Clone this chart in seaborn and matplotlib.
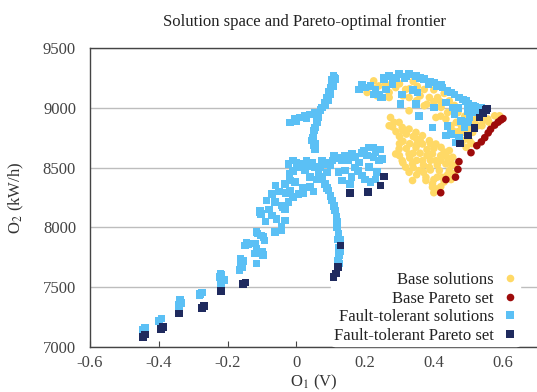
import pandas as pd
import matplotlib
matplotlib.use("Agg")
import matplotlib.pyplot as plt
import seaborn as sns

# --- datos ---
base_sol_o1 = [0.206, 0.225, 0.235, 0.24, 0.27, 0.27, 0.289, 0.30, 0.318, 0.328, 0.34, 0.352,
               0.372, 0.387, 0.372, 0.328, 0.35, 0.411, 0.421, 0.445, 0.40, 0.43, 0.406, 0.435,
               0.465, 0.455, 0.484, 0.504, 0.513, 0.528, 0.543, 0.557, 0.577, 0.591, 0.484, 0.494,
               0.504, 0.47, 0.49, 0.46, 0.52,
               0.23, 0.26, 0.28, 0.31, 0.33, 0.36, 0.38, 0.40, 0.42, 0.44, 0.48, 0.50, 0.52,
               0.54, 0.56, 0.51, 0.47, 0.45, 0.42,
               0.274, 0.284, 0.27, 0.299, 0.308, 0.328, 0.348, 0.367, 0.387, 0.406, 0.421, 0.445,
               0.455, 0.299, 0.289, 0.308, 0.328, 0.348, 0.338, 0.367, 0.357, 0.387, 0.406, 0.416,
               0.435, 0.377, 0.396, 0.406, 0.425, 0.445, 0.318, 0.328, 0.435, 0.396, 0.367, 0.338,
               0.377, 0.396, 0.416, 0.31, 0.33, 0.35, 0.38, 0.42, 0.45, 0.46, 0.36, 0.39, 0.32,
               0.29, 0.30,
               0.28, 0.31, 0.34, 0.36, 0.40, 0.43, 0.44, 0.46, 0.30, 0.32, 0.34, 0.30, 0.35,
               0.37, 0.39, 0.41, 0.43, 0.42, 0.40, 0.35, 0.34, 0.31, 0.33, 0.38, 0.41, 0.44,
               0.42, 0.39, 0.35, 0.37, 0.40, 0.45]
base_sol_o2 = [9128, 9225, 9100, 9183, 9128, 9086, 9169, 9200, 9153, 9086, 9220, 9180,
               9153, 9086, 9017, 8975, 9060, 9086, 9003, 9058, 9150, 9120, 8919, 8906,
               8878, 8808, 8794, 8836, 8794, 8850, 8892, 8906, 8933, 8933, 8725, 8669,
               8725, 8960, 8930, 9020, 8900,
               9160, 9200, 9240, 9100, 9160, 9100, 9030, 9050, 9050, 8960, 8850, 8780, 8860,
               8850, 8880, 8700, 8800, 8850, 8930,
               8919, 8878, 8850, 8878, 8836, 8822, 8794, 8767, 8725, 8697, 8669, 8642,
               8586, 8656, 8614, 8558, 8614, 8669, 8531, 8558, 8475, 8503, 8558, 8475,
               8531, 8419, 8364, 8322, 8419, 8475, 8503, 8461, 8600, 8614, 8697, 8392,
               8392, 8336, 8308, 8720, 8700, 8740, 8650, 8600, 8530, 8450, 8620, 8560, 8780,
               8800, 8760,
               8840, 8810, 8760, 8730, 8660, 8630, 8580, 8520, 8700, 8660, 8620, 8600, 8560,
               8520, 8480, 8420, 8380, 8340, 8290, 8440, 8500, 8540, 8580, 8600, 8520, 8440,
               8560, 8700, 8690, 8460, 8400, 8400]

base_par_o1 = [0.42, 0.435, 0.463, 0.47, 0.473, 0.508, 0.525, 0.538, 0.548, 0.558, 0.565,
               0.577, 0.587, 0.595, 0.601]
base_par_o2 = [8290, 8400, 8420, 8485, 8550, 8625, 8683, 8715, 8750, 8790, 8820,
               8855, 8880, 8898, 8910]

ft_sol_o1 = [-0.446, -0.44, -0.399, -0.392, -0.343, -0.338, -0.341, -0.282, -0.274, -0.223,
             -0.221, -0.219, -0.21, -0.165, -0.160, -0.162, -0.150, -0.145, -0.121, -0.116,
             -0.121, -0.116, -0.102, -0.106, -0.102, -0.092, -0.097, -0.116, -0.087, -0.062,
             -0.058, -0.043, -0.033, -0.043, -0.062, -0.023, -0.033, -0.043, -0.038,
             -0.336, -0.28, -0.218, -0.158, -0.155, -0.14, -0.11, -0.10, -0.113, -0.095, -0.105,
             -0.009, -0.018, -0.033, -0.018, -0.004, 0.006, 0.02, -0.023, -0.009, 0.020, 0.025,
             0.045, 0.055, 0.074, 0.064, 0.084, 0.094, 0.103, 0.113, 0.118, 0.123, 0.125, 0.126,
             0.128, 0.133, 0.123, 0.133, 0.142, 0.157, 0.162, 0.182, 0.191, 0.196, 0.211, 0.225,
             0.225, 0.211, 0.240, 0.235, 0.25, 0.216, 0.055, 0.09, 0.10, 0.03, 0.0, 0.11, 0.15,
             -0.01, 0.04, 0.06, 0.125, 0.12, 0.117,
             -0.07, -0.05, -0.03, -0.06, -0.02, 0.01, 0.035, 0.07, 0.08, 0.105, 0.12, 0.14,
             0.17, 0.19, 0.205, 0.23, 0.245, 0.17, 0.18, 0.2, 0.23, 0.16, 0.075, 0.09, -0.08,
             -0.07, -0.09, 0.02, 0.04, 0.05,
             0.122, 0.127, 0.12, 0.118, 0.11, 0.1, 0.09,
             0.108, 0.104, 0.099, 0.094, 0.089, 0.082, 0.074, 0.055, 0.04, 0.025, 0.01, -0.004,
             -0.018, 0.064, 0.055, 0.050, 0.045, 0.055, 0.11, 0.105,
             0.112, 0.108, 0.1, 0.093, 0.085, 0.07, 0.06, 0.03, 0.0, 0.06, 0.052, 0.048, 0.05,
             0.182, 0.191, 0.216, 0.230, 0.255, 0.24, 0.25, 0.255, 0.27, 0.299, 0.328, 0.348,
             0.372, 0.401, 0.425, 0.45, 0.474, 0.494, 0.513, 0.538, 0.225, 0.245, 0.26, 0.308,
             0.352, 0.303, 0.348, 0.401, 0.435, 0.455, 0.357, 0.396, 0.44, 0.435, 0.46, 0.479,
             0.489, 0.504, 0.518, 0.465, 0.474, 0.315, 0.385, 0.41, 0.44, 0.5, 0.53,
             0.20, 0.29, 0.32, 0.36, 0.39, 0.42, 0.46, 0.485, 0.52, 0.28, 0.34, 0.47, 0.50,
             0.45, 0.50]
ft_sol_o2 = [7142, 7160, 7219, 7239, 7350, 7392, 7336, 7433, 7456, 7586,
             7614, 7531, 7560, 7642, 7697, 7739, 7850, 7870, 7781, 7822,
             7864, 7961, 8114, 8142, 7933, 7892, 7767, 7697, 8225, 7961,
             8072, 8003, 8156, 8183, 8211, 8211, 8058, 7975, 8169,
             7370, 7445, 7600, 7670, 7720, 7860, 7790, 7800, 7950, 7920, 8125,
             8253, 8308, 8364, 8392, 8378, 8281, 8290, 8531, 8558, 8531, 8475,
             8544, 8503, 8558, 8447, 8364, 8308, 8225, 8142, 8044, 7947, 7767, 7697,
             7897, 8558, 8464, 8392, 8475, 8364, 8614, 8544, 8433, 8642, 8669, 8669,
             8586, 8503, 8558, 8461, 8572, 8378, 8697, 8540, 8520, 8560, 8540, 8600, 8560,
             8470, 8420, 8400, 7830, 8000, 8090,
             8280, 8300, 8290, 8350, 8450, 8500, 8510, 8500, 8530, 8560, 8580, 8600,
             8590, 8620, 8600, 8630, 8650, 8500, 8470, 8400, 8400, 8420, 8420, 8460, 8150,
             8100, 8050, 8330, 8340, 8300,
             7720, 7800, 7900, 8000, 8180, 8260, 8330,
             9267, 9230, 9169, 9130, 9086, 9045, 9003, 8961, 8945, 8933, 8920, 8906,
             8878, 8919, 8836, 8781, 8725, 8656, 9250, 9200,
             9240, 9180, 9110, 9060, 9020, 8980, 8940, 8915, 8890, 8880, 8810, 8750, 8690,
             9153, 9194, 9183, 9153, 9253, 9111, 9086, 9239, 9267, 9281, 9281, 9267,
             9239, 9211, 9169, 9128, 9086, 9058, 9017, 9003, 9111, 9086, 9153, 9111,
             9128, 9031, 9031, 9003, 9045, 9003, 8933, 8836, 8850, 8767, 8947, 8892,
             8836, 8919, 8961, 8711, 8753, 9250, 9200, 9180, 9140, 9030, 8980,
             9170, 9250, 9260, 9250, 9220, 9190, 9110, 9070, 9010, 9200, 9150, 9000, 8970,
             8780, 8880]

ft_par_o1 = [-0.446, -0.44, -0.394, -0.388, -0.341, -0.275, -0.268, -0.219, -0.155, -0.148,
             0.108, 0.115, 0.121, 0.128, 0.157, 0.209, 0.245, 0.255,
             0.476, 0.499, 0.518, 0.533, 0.543, 0.551, 0.555]
ft_par_o2 = [7086, 7105, 7150, 7165, 7281, 7328, 7345, 7467, 7525, 7540,
             7586, 7614, 7669, 7850, 8286, 8294, 8350, 8425,
             8703, 8767, 8830, 8920, 8955, 8980, 8995]

series = ['Base solutions', 'Base Pareto set', 'Fault-tolerant solutions', 'Fault-tolerant Pareto set']
colores = {'Base solutions': '#FFD966', 'Base Pareto set': '#9E0B0B',
           'Fault-tolerant solutions': '#5BC0F5', 'Fault-tolerant Pareto set': '#1F2A5E'}
marcadores = {'Base solutions': 'o', 'Base Pareto set': 'o',
              'Fault-tolerant solutions': 's', 'Fault-tolerant Pareto set': 's'}

# orden de dibujo: amarillo, azul claro, rojo, azul oscuro
df = pd.concat([
    pd.DataFrame({'O1': base_sol_o1, 'O2': base_sol_o2, 'set': series[0]}),
    pd.DataFrame({'O1': ft_sol_o1, 'O2': ft_sol_o2, 'set': series[2]}),
    pd.DataFrame({'O1': base_par_o1, 'O2': base_par_o2, 'set': series[1]}),
    pd.DataFrame({'O1': ft_par_o1, 'O2': ft_par_o2, 'set': series[3]}),
], ignore_index=True)

sns.set_style('white')
plt.rcParams['font.family'] = ['Liberation Serif', 'DejaVu Serif']
plt.rcParams['mathtext.fontset'] = 'stix'

fig = plt.figure(figsize=(5.37, 3.92), dpi=100)
ax = fig.add_axes([0.1676, 0.1148, 0.8324, 0.7628])

sns.scatterplot(data=df, x='O1', y='O2', hue='set', style='set', hue_order=series,
                style_order=series, palette=colores, markers=marcadores, s=30,
                linewidth=0, ax=ax, zorder=6)

ax.set_xlim(-0.6, 0.7)
ax.set_ylim(7000, 9500)
ax.set_xticks([-0.6, -0.4, -0.2, 0, 0.2, 0.4, 0.6])
ax.set_xticklabels(['-0.6', '-0.4', '-0.2', '0', '0.2', '0.4', '0.6'])
ax.set_yticks([7000, 7500, 8000, 8500, 9000, 9500])
ax.yaxis.grid(True, color='#BDBDBD', linewidth=1.0)
ax.set_axisbelow(True)

for lado in ['left', 'bottom', 'top']:
    ax.spines[lado].set_color('#444444')
    ax.spines[lado].set_linewidth(1.0)
ax.spines['right'].set_visible(False)

ax.tick_params(axis='x', direction='in', length=4, color='#444444', labelsize=12,
               labelcolor='#444444', pad=6, bottom=True)
ax.tick_params(axis='y', length=0, labelsize=12, labelcolor='#444444', pad=10)

ax.set_xlabel('O$_1$ (V)', fontsize=12, color='#333333', labelpad=1)
ax.set_ylabel('O$_2$ (kW/h)', fontsize=12, color='#333333', labelpad=12)
ax.set_title('Solution space and Pareto-optimal frontier', fontsize=12, color='#222222',
             x=0.479, pad=16)

handles, labels = ax.get_legend_handles_labels()
leg = ax.legend(handles, labels, loc='lower right', bbox_to_anchor=(0.963, 0.0),
                markerfirst=False, frameon=True, fontsize=12, labelspacing=0.15,
                handlelength=0.8, handletextpad=0.6, borderpad=0.15, borderaxespad=0.05)
leg.get_frame().set_facecolor('white')
leg.get_frame().set_edgecolor('white')
leg.get_frame().set_alpha(1.0)
leg.set_zorder(4)
for t in leg.get_texts():
    t.set_color('#222222')

plt.savefig('out.png', dpi=100)
